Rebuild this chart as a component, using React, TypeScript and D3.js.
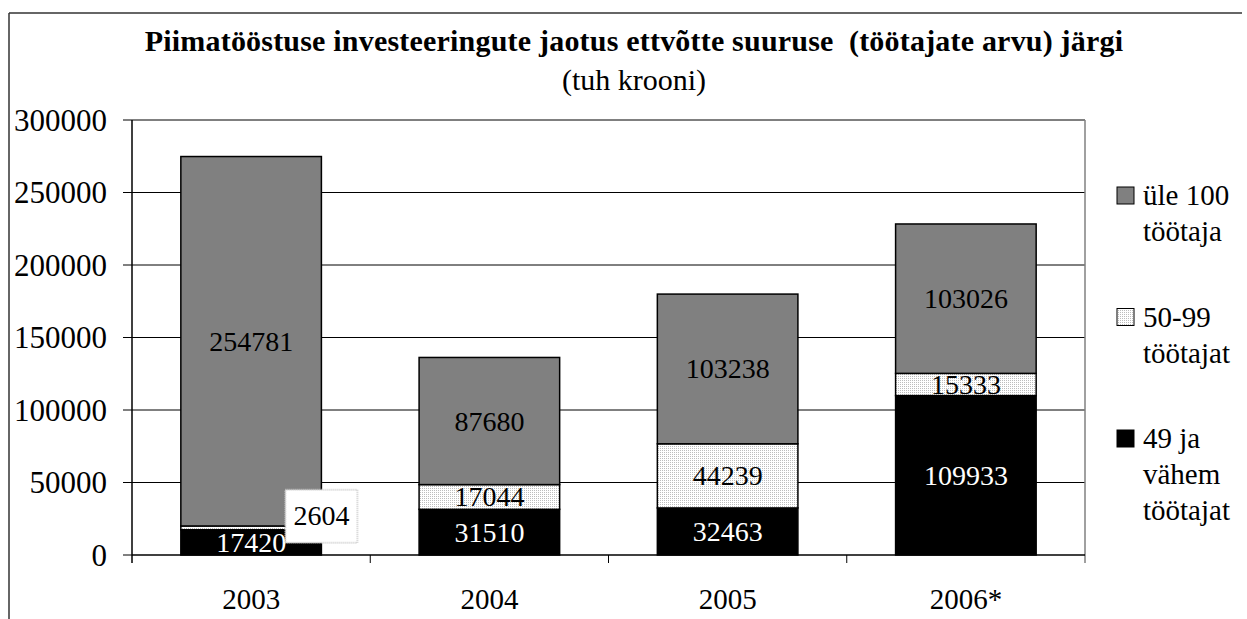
import React from 'react'
import * as d3 from 'd3'

// investeeringud, tuh krooni
const years = ['2003', '2004', '2005', '2006*']
const small = [17420, 31510, 32463, 109933] // 49 ja vähem töötajat
const medium = [2604, 17044, 44239, 15333] // 50-99 töötajat
const large = [254781, 87680, 103238, 103026] // üle 100 töötaja
const yTicks = [0, 50000, 100000, 150000, 200000, 250000, 300000]
const legendLabels = [['üle 100', 'töötaja'], ['50-99', 'töötajat'], ['49 ja', 'vähem', 'töötajat']]

const W = 1247
const H = 619
const margin = { top: 120, right: 162, bottom: 64, left: 132 }
const font = "'Liberation Serif', Tinos, 'DejaVu Serif', serif"

const keys = ['small', 'medium', 'large']
const fills: Record<string, string> = { small: '#000000', medium: 'url(#dots)', large: '#808080' }
const labelColor: Record<string, string> = { small: '#ffffff', medium: '#000000', large: '#000000' }

const App = () => {
  const rows = years.map((year, i) => ({ year, small: small[i], medium: medium[i], large: large[i] }))
  const series = d3.stack<any>().keys(keys)(rows)

  const x = d3.scaleBand().domain(years).range([margin.left, W - margin.right])
  const y = d3.scaleLinear().domain([0, 300000]).range([H - margin.bottom, margin.top])
  const barW = x.bandwidth() * 0.59
  const x0 = margin.left
  const x1 = W - margin.right
  const y0 = y(0)

  // legend order top -> bottom
  const legendKeys = ['large', 'medium', 'small']

  return (
    <svg width={W} height={H} style={{ position: 'absolute', left: 0, top: 0, background: '#fff', fontFamily: font }}>
      <defs>
        <pattern id="dots" width={2} height={2} patternUnits="userSpaceOnUse">
          <rect width={2} height={2} fill="#ffffff" />
          <rect width={1} height={1} fill="#bdbdbd" />
        </pattern>
      </defs>

      {/* outer frame */}
      <line x1={9} x2={1242} y1={13} y2={13} stroke="#333" strokeWidth={1.5} />
      <line x1={9} x2={9} y1={13} y2={H} stroke="#333" strokeWidth={1.5} />

      {/* title */}
      <text x={634} y={51} textAnchor="middle" fontSize={30} fontWeight="bold" letterSpacing={0.2} style={{ whiteSpace: 'pre', fontFamily: font }}>
        {'Piimatööstuse investeeringute jaotus ettvõtte suuruse  (töötajate arvu) järgi'}
      </text>
      <text x={634} y={90} textAnchor="middle" fontSize={30} style={{ fontFamily: font }}>(tuh krooni)</text>

      {/* gridlines */}
      {yTicks.filter(t => t > 0).map(t => (
        <line key={t} x1={x0} x2={x1} y1={y(t)} y2={y(t)} stroke="#000" strokeWidth={1} />
      ))}
      <line x1={x1} x2={x1} y1={margin.top} y2={y0 + 8} stroke="#808080" strokeWidth={1.5} />

      {/* bars */}
      {series.map(s => (
        <g key={s.key}>
          {s.map((d, i) => (
            <rect
              key={i}
              x={x(years[i])! + (x.bandwidth() - barW) / 2}
              y={y(d[1])}
              width={barW}
              height={y(d[0]) - y(d[1])}
              fill={fills[s.key]}
              stroke="#000"
              strokeWidth={1.5}
            />
          ))}
        </g>
      ))}

      {/* data labels */}
      {series.map(s => (
        <g key={s.key} fontSize={28} style={{ fontFamily: font }}>
          {s.map((d, i) => {
            const cx = x(years[i])! + x.bandwidth() / 2
            const cy = (y(d[0]) + y(d[1])) / 2
            const v = d[1] - d[0]
            if (y(d[0]) - y(d[1]) < 12) {
              // too thin: boxed callout at the bar's right edge
              const bx = cx + barW / 2
              const by = cy - 12
              return (
                <g key={i}>
                  <rect x={bx - 36} y={by - 26} width={72} height={53} fill="#fff" stroke="#cfcfcf" strokeWidth={2} strokeDasharray="1 1" />
                  <text x={bx} y={by} dy="0.34em" textAnchor="middle" fill="#000">{v}</text>
                </g>
              )
            }
            return (
              <text key={i} x={cx} y={cy} dy="0.34em" textAnchor="middle" fill={labelColor[s.key]}>{v}</text>
            )
          })}
        </g>
      ))}

      {/* axes */}
      <line x1={x0} x2={x0} y1={margin.top} y2={y0 + 8} stroke="#000" strokeWidth={1.5} />
      <line x1={x0} x2={x1} y1={y0} y2={y0} stroke="#000" strokeWidth={1.5} />
      {yTicks.map(t => (
        <g key={t}>
          <line x1={x0 - 9} x2={x0} y1={y(t)} y2={y(t)} stroke="#000" strokeWidth={1} />
          <text x={107} y={y(t)} dy="0.34em" textAnchor="end" fontSize={31} style={{ fontFamily: font }}>{t}</text>
        </g>
      ))}
      {years.slice(1).map(yr => (
        <line key={yr} x1={x(yr)!} x2={x(yr)!} y1={y0} y2={y0 + 8} stroke="#000" strokeWidth={1} />
      ))}
      {years.map(yr => (
        <text key={yr} x={x(yr)! + x.bandwidth() / 2} y={609} textAnchor="middle" fontSize={29} style={{ fontFamily: font }}>{yr}</text>
      ))}

      {/* legend */}
      {legendKeys.map((k, i) => {
        const base = 205 + i * 121.5
        return (
          <g key={k} fontSize={29} style={{ fontFamily: font }}>
            <rect x={1117} y={base - 18} width={17} height={17} fill={fills[k]} stroke="#000" strokeWidth={1} />
            {legendLabels[i].map((ln, j) => (
              <text key={j} x={1143} y={base + j * 36}>{ln}</text>
            ))}
          </g>
        )
      })}
    </svg>
  )
}

export default App
